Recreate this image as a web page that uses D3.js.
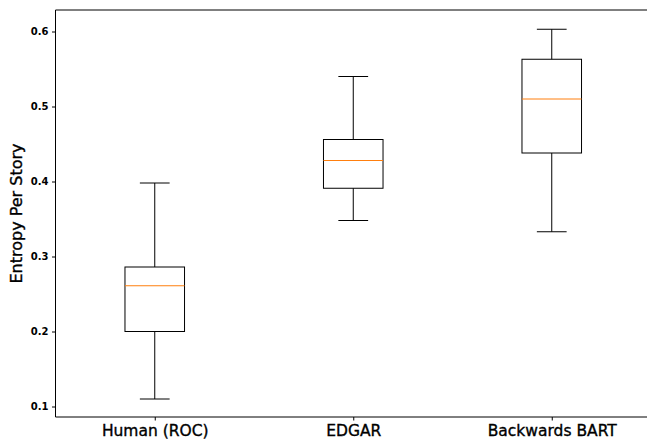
<!DOCTYPE html>
<html>
<head>
<meta charset="utf-8">
<script src="https://cdn.jsdelivr.net/npm/d3@7"></script>
<style>
  html, body { margin: 0; padding: 0; background: #fff; overflow: hidden; }
  svg { display: block; font-family: "DejaVu Sans", sans-serif; }
</style>
</head>
<body>
<div id="chart"></div>
<script>
// box plot summary values
const categories = ["Human (ROC)", "EDGAR", "Backwards BART"];
const whiskerLow = [0.110, 0.348, 0.333];
const q1 = [0.200, 0.391, 0.438];
const median = [0.261, 0.428, 0.510];
const q3 = [0.286, 0.456, 0.563];
const whiskerHigh = [0.398, 0.540, 0.603];
const yTicks = [0.1, 0.2, 0.3, 0.4, 0.5, 0.6];

const width = 647, height = 441;
const axLeft = 55.5, axTop = 10, axBottom = 417;

const svg = d3.select("#chart").append("svg")
    .attr("width", width)
    .attr("height", height);

// x positions 1..3 like matplotlib, xlim 0.5..3.5 (right edge is cut off)
const x = d3.scaleLinear().domain([0.5, 3.5]).range([axLeft, axLeft + 3 * 198.5]);
const y = d3.scaleLinear().domain([0.1, 0.6]).range([406.5, 31.5]);

const boxW = 0.3, capW = 0.15;

const data = categories.map((c, i) => ({
    name: c, pos: i + 1,
    lo: whiskerLow[i], q1: q1[i], med: median[i], q3: q3[i], hi: whiskerHigh[i]
}));

const g = svg.append("g");
const boxes = g.selectAll("g.box").data(data).join("g").attr("class", "box");

// whiskers
boxes.append("line")
    .attr("x1", d => x(d.pos)).attr("x2", d => x(d.pos))
    .attr("y1", d => y(d.q1)).attr("y2", d => y(d.lo))
    .attr("stroke", "#000").attr("stroke-width", 1);
boxes.append("line")
    .attr("x1", d => x(d.pos)).attr("x2", d => x(d.pos))
    .attr("y1", d => y(d.q3)).attr("y2", d => y(d.hi))
    .attr("stroke", "#000").attr("stroke-width", 1);

// caps
boxes.selectAll("line.cap").data(d => [[d.pos, d.lo], [d.pos, d.hi]]).join("line")
    .attr("class", "cap")
    .attr("x1", d => x(d[0] - capW / 2)).attr("x2", d => x(d[0] + capW / 2))
    .attr("y1", d => y(d[1])).attr("y2", d => y(d[1]))
    .attr("stroke", "#000").attr("stroke-width", 1);

// boxes
boxes.append("rect")
    .attr("x", d => x(d.pos - boxW / 2))
    .attr("width", d => x(d.pos + boxW / 2) - x(d.pos - boxW / 2))
    .attr("y", d => y(d.q3))
    .attr("height", d => y(d.q1) - y(d.q3))
    .attr("fill", "none").attr("stroke", "#000").attr("stroke-width", 1);

// medians
boxes.append("line")
    .attr("x1", d => x(d.pos - boxW / 2)).attr("x2", d => x(d.pos + boxW / 2))
    .attr("y1", d => y(d.med)).attr("y2", d => y(d.med))
    .attr("stroke", "#ff7f0e").attr("stroke-width", 1);

// spines
svg.append("line").attr("x1", axLeft).attr("x2", width).attr("y1", axTop).attr("y2", axTop)
    .attr("stroke", "#000").attr("stroke-width", 1);
svg.append("line").attr("x1", axLeft).attr("x2", width).attr("y1", axBottom).attr("y2", axBottom)
    .attr("stroke", "#000").attr("stroke-width", 1);
svg.append("line").attr("x1", axLeft).attr("x2", axLeft).attr("y1", axTop).attr("y2", axBottom)
    .attr("stroke", "#000").attr("stroke-width", 1);

// y axis
const yAxis = svg.append("g")
    .attr("transform", `translate(${axLeft},0)`)
    .call(d3.axisLeft(y).tickValues(yTicks).tickFormat(d3.format(".1f")).tickSize(3.5).tickPadding(3.5));
yAxis.select(".domain").remove();
yAxis.selectAll("text")
    .attr("font-size", 10).attr("font-weight", "bold")
    .attr("font-family", "DejaVu Sans").attr("fill", "#000");

// x axis
const xAxis = svg.append("g")
    .attr("transform", `translate(0,${axBottom})`)
    .call(d3.axisBottom(x).tickValues([1, 2, 3]).tickFormat(d => categories[d - 1]).tickSize(3.5).tickPadding(4));
xAxis.select(".domain").remove();
xAxis.selectAll("text")
    .attr("font-size", 15.5)
    .attr("font-family", "DejaVu Sans").attr("fill", "#000")
    .attr("stroke", "#000").attr("stroke-width", 0.35);

// y title
svg.append("text")
    .attr("transform", `translate(22,${(axTop + axBottom) / 2}) rotate(-90)`)
    .attr("text-anchor", "middle")
    .attr("font-size", 16)
    .attr("fill", "#000")
    .attr("stroke", "#000").attr("stroke-width", 0.35)
    .text("Entropy Per Story");
</script>
</body>
</html>
